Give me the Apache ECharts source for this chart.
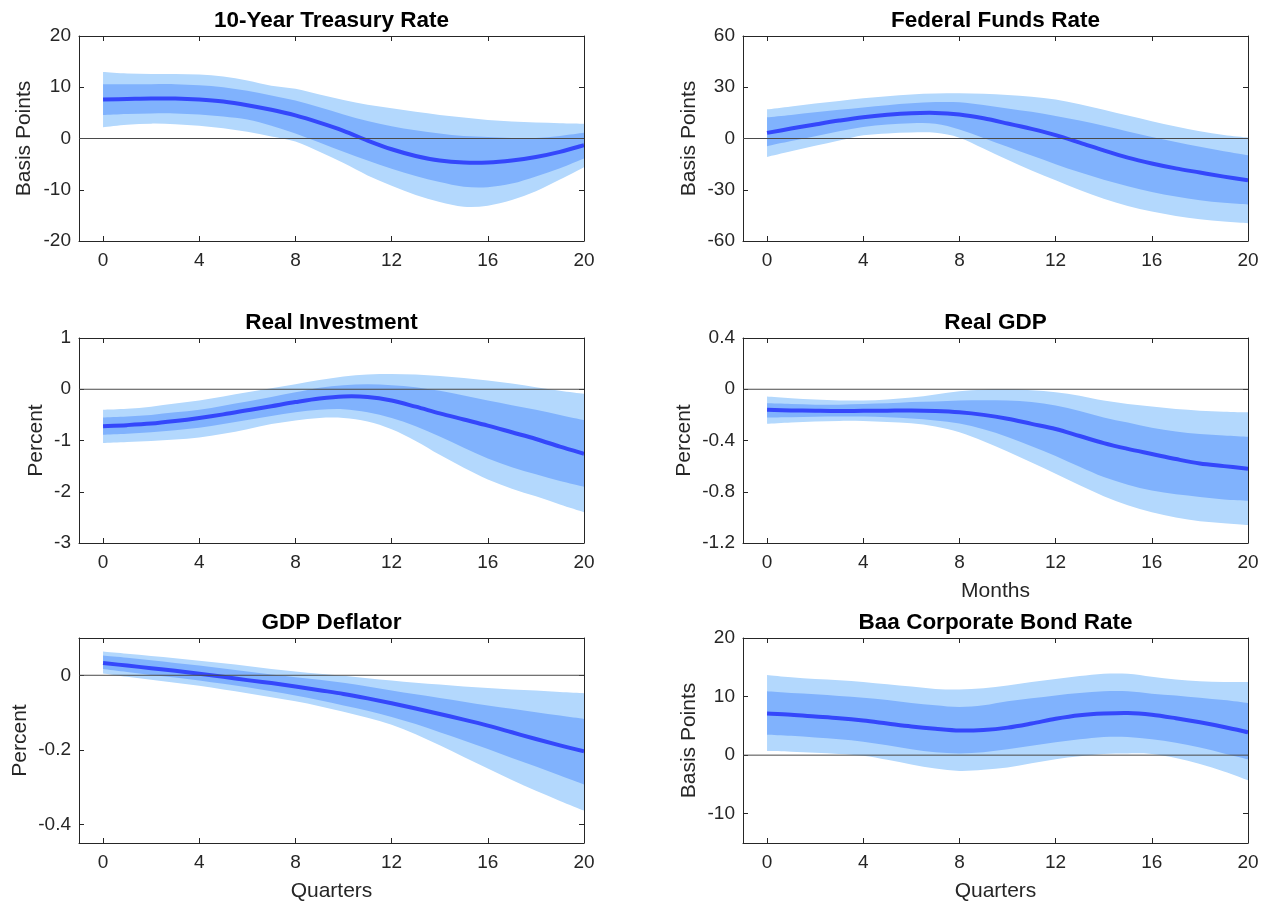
<!DOCTYPE html>
<html>
<head>
<meta charset="utf-8">
<title>Impulse responses</title>
<script src="https://cdn.jsdelivr.net/npm/echarts@6/dist/echarts.min.js"></script>
<style>
  html, body { margin: 0; padding: 0; background: #ffffff; }
  #chart { width: 1265px; height: 903px; }
</style>
</head>
<body>
<div id="chart"></div>
<script>
// Horizon (quarters after the shock) and shared x tick labels
const horizons = [0,1,2,3,4,5,6,7,8,9,10,11,12,13,14,15,16,17,18,19,20];
const xTicks = [0,4,8,12,16,20];

// 10-Year Treasury Rate (basis points)
const tsyMedian  = [7.6,7.7,7.8,7.8,7.6,7.2,6.5,5.6,4.5,3.1,1.5,-0.4,-2.1,-3.4,-4.3,-4.7,-4.7,-4.3,-3.6,-2.6,-1.3];
const tsyInnerHi = [10.6,10.6,10.6,10.6,10.4,10.0,9.3,8.4,7.4,6.1,4.7,3.4,2.4,1.6,1.0,0.5,0.3,0.1,0.1,0.5,1.1];
const tsyInnerLo = [4.6,4.8,4.9,4.9,4.7,4.3,3.7,2.5,1.0,-0.8,-2.6,-4.3,-5.9,-7.3,-8.5,-9.4,-9.5,-8.8,-7.4,-5.8,-3.9];
const tsyOuterHi = [13.0,12.7,12.6,12.6,12.5,12.1,11.3,10.3,9.7,8.6,7.5,6.6,5.9,5.2,4.6,4.1,3.6,3.3,3.1,3.0,2.9];
const tsyOuterLo = [2.2,2.7,2.9,2.8,2.5,2.0,1.3,0.4,-0.6,-2.6,-4.8,-7.2,-9.2,-11.0,-12.4,-13.3,-13.1,-12.0,-10.3,-8.0,-5.6];
const tsyYTicks  = [-20,-10,0,10,20];

// Federal Funds Rate (basis points)
const ffrMedian  = [3.3,5.8,8.2,10.5,12.5,13.9,14.8,15.0,14.0,11.8,8.8,5.6,2.0,-2.4,-7.0,-11.2,-14.6,-17.5,-19.9,-22.3,-24.5];
const ffrInnerHi = [12.4,13.8,15.3,16.8,18.2,19.5,20.6,21.3,21.2,19.6,17.6,15.6,13.2,10.5,7.4,4.1,0.9,-2.1,-4.9,-7.5,-9.8];
const ffrInnerLo = [-4.5,-1.5,1.3,4.2,6.8,8.2,8.9,8.6,5.3,0.3,-4.9,-10.0,-15.0,-19.8,-24.2,-28.0,-31.3,-34.0,-36.1,-37.6,-38.6];
const ffrOuterHi = [17.1,18.8,20.5,22.0,23.5,24.8,25.8,26.3,26.5,26.2,25.5,24.4,22.8,20.0,16.8,13.4,10.1,7.0,4.2,2.1,0.6];
const ffrOuterLo = [-10.8,-7.5,-4.3,-1.2,1.9,3.0,3.5,3.3,0.5,-5.8,-12.5,-18.8,-24.5,-30.2,-35.3,-39.5,-42.8,-45.3,-47.2,-48.6,-49.6];
const ffrYTicks  = [-60,-30,0,30,60];

// Real Investment (percent)
const invMedian  = [-0.72,-0.70,-0.67,-0.62,-0.56,-0.49,-0.41,-0.33,-0.25,-0.18,-0.14,-0.15,-0.22,-0.34,-0.47,-0.59,-0.71,-0.84,-0.97,-1.12,-1.26];
const invInnerHi = [-0.55,-0.53,-0.50,-0.45,-0.40,-0.32,-0.24,-0.15,-0.06,0.03,0.08,0.10,0.08,0.04,-0.03,-0.12,-0.22,-0.31,-0.40,-0.50,-0.60];
const invInnerLo = [-0.89,-0.87,-0.84,-0.80,-0.75,-0.68,-0.60,-0.52,-0.45,-0.40,-0.39,-0.45,-0.56,-0.72,-0.92,-1.14,-1.35,-1.52,-1.66,-1.79,-1.90];
const invOuterHi = [-0.40,-0.38,-0.34,-0.28,-0.22,-0.14,-0.06,0.02,0.10,0.18,0.25,0.29,0.30,0.29,0.26,0.22,0.17,0.11,0.04,-0.03,-0.09];
const invOuterLo = [-1.05,-1.03,-1.01,-0.98,-0.94,-0.87,-0.78,-0.68,-0.61,-0.56,-0.56,-0.63,-0.78,-1.01,-1.28,-1.53,-1.76,-1.94,-2.09,-2.25,-2.40];
const invYTicks  = [-3,-2,-1,0,1];

// Real GDP (percent)
const gdpMedian  = [-0.16,-0.165,-0.168,-0.17,-0.168,-0.167,-0.166,-0.17,-0.18,-0.20,-0.23,-0.27,-0.31,-0.365,-0.42,-0.465,-0.505,-0.545,-0.58,-0.60,-0.62];
const gdpInnerHi = [-0.11,-0.115,-0.12,-0.12,-0.115,-0.11,-0.10,-0.095,-0.088,-0.085,-0.088,-0.10,-0.127,-0.17,-0.22,-0.26,-0.30,-0.33,-0.35,-0.36,-0.37];
const gdpInnerLo = [-0.22,-0.218,-0.215,-0.213,-0.213,-0.218,-0.228,-0.243,-0.268,-0.312,-0.372,-0.445,-0.52,-0.605,-0.685,-0.745,-0.79,-0.82,-0.84,-0.86,-0.87];
const gdpOuterHi = [-0.057,-0.07,-0.08,-0.087,-0.088,-0.08,-0.065,-0.04,-0.015,-0.003,0.0,-0.008,-0.023,-0.05,-0.088,-0.115,-0.135,-0.155,-0.167,-0.175,-0.18];
const gdpOuterLo = [-0.27,-0.26,-0.252,-0.247,-0.248,-0.255,-0.265,-0.29,-0.335,-0.405,-0.485,-0.572,-0.66,-0.75,-0.835,-0.905,-0.96,-1.00,-1.03,-1.045,-1.06];
const gdpYTicks  = [-1.2,-0.8,-0.4,0,0.4];

// GDP Deflator (percent)
const defMedian  = [0.033,0.026,0.019,0.012,0.004,-0.004,-0.013,-0.021,-0.030,-0.040,-0.050,-0.062,-0.075,-0.089,-0.104,-0.119,-0.135,-0.153,-0.171,-0.188,-0.204];
const defInnerHi = [0.053,0.047,0.040,0.033,0.026,0.018,0.010,0.002,-0.005,-0.012,-0.020,-0.030,-0.041,-0.051,-0.061,-0.071,-0.081,-0.090,-0.099,-0.108,-0.117];
const defInnerLo = [0.017,0.009,0.001,-0.006,-0.014,-0.023,-0.032,-0.043,-0.054,-0.067,-0.081,-0.095,-0.112,-0.131,-0.153,-0.175,-0.198,-0.222,-0.245,-0.269,-0.293];
const defOuterHi = [0.064,0.058,0.052,0.046,0.039,0.032,0.025,0.017,0.010,0.004,-0.001,-0.008,-0.014,-0.020,-0.025,-0.030,-0.034,-0.038,-0.041,-0.045,-0.048];
const defOuterLo = [0.005,-0.004,-0.012,-0.020,-0.028,-0.038,-0.048,-0.059,-0.070,-0.083,-0.098,-0.114,-0.133,-0.158,-0.188,-0.219,-0.250,-0.281,-0.310,-0.337,-0.363];
const defYTicks  = [-0.4,-0.2,0];

// Baa Corporate Bond Rate (basis points)
const baaMedian  = [7.1,6.9,6.6,6.3,5.9,5.4,4.9,4.5,4.2,4.3,4.7,5.4,6.2,6.8,7.1,7.2,6.9,6.3,5.6,4.8,3.9];
const baaInnerHi = [10.9,10.6,10.4,10.1,9.8,9.4,8.9,8.5,8.2,8.5,9.2,9.7,10.2,10.6,10.9,10.9,10.5,10.2,9.8,9.4,8.9];
const baaInnerLo = [3.5,3.3,3.0,2.7,2.3,1.7,1.0,0.5,0.3,0.5,1.0,1.6,2.2,2.7,3.1,3.1,2.7,2.1,1.3,0.3,-0.7];
const baaOuterHi = [13.7,13.3,13.0,12.8,12.5,12.1,11.7,11.3,11.2,11.4,11.9,12.5,13.0,13.5,13.9,13.9,13.4,12.9,12.6,12.5,12.5];
const baaOuterLo = [0.7,0.6,0.4,0.2,-0.1,-0.8,-1.6,-2.3,-2.7,-2.5,-2.1,-1.4,-0.7,-0.2,0.2,0.3,0.2,-0.5,-1.5,-2.8,-4.3];
const baaYTicks  = [-10,0,10,20];

// Panel descriptions (grid slot, axis range, names)
const panels = [
  { title: '10-Year Treasury Rate', yName: 'Basis Points', xName: '', col: 0, row: 0, yMin: -20, yMax: 20, yTicks: tsyYTicks, nameGap: 44,
    median: tsyMedian, innerHi: tsyInnerHi, innerLo: tsyInnerLo, outerHi: tsyOuterHi, outerLo: tsyOuterLo },
  { title: 'Federal Funds Rate', yName: 'Basis Points', xName: '', col: 1, row: 0, yMin: -60, yMax: 60, yTicks: ffrYTicks, nameGap: 43,
    median: ffrMedian, innerHi: ffrInnerHi, innerLo: ffrInnerLo, outerHi: ffrOuterHi, outerLo: ffrOuterLo },
  { title: 'Real Investment', yName: 'Percent', xName: '', col: 0, row: 1, yMin: -3, yMax: 1, yTicks: invYTicks, nameGap: 32,
    median: invMedian, innerHi: invInnerHi, innerLo: invInnerLo, outerHi: invOuterHi, outerLo: invOuterLo },
  { title: 'Real GDP', yName: 'Percent', xName: 'Months', col: 1, row: 1, yMin: -1.2, yMax: 0.4, yTicks: gdpYTicks, nameGap: 48,
    median: gdpMedian, innerHi: gdpInnerHi, innerLo: gdpInnerLo, outerHi: gdpOuterHi, outerLo: gdpOuterLo },
  { title: 'GDP Deflator', yName: 'Percent', xName: 'Quarters', col: 0, row: 2, yMin: -0.45, yMax: 0.1, yTicks: defYTicks, nameGap: 48,
    median: defMedian, innerHi: defInnerHi, innerLo: defInnerLo, outerHi: defOuterHi, outerLo: defOuterLo },
  { title: 'Baa Corporate Bond Rate', yName: 'Basis Points', xName: 'Quarters', col: 1, row: 2, yMin: -15, yMax: 20, yTicks: baaYTicks, nameGap: 43,
    median: baaMedian, innerHi: baaInnerHi, innerLo: baaInnerLo, outerHi: baaOuterHi, outerLo: baaOuterLo }
];

const FONT = "'Liberation Sans', Arial, Helvetica, sans-serif";
const INK = '#262626';
const LIGHT = '#b3d8fd';
const DARK = '#80b2fd';
const LINE = '#3447fb';
const X_MIN = -1, X_MAX = 20;

const colLeft = [79, 743];
const rowTop = [36, 338, 638];
const plotW = 505, plotH = 205;

// Smooth curve through pixel points (Catmull-Rom written as cubic Beziers)
function curveSegments(pts) {
  let d = '';
  for (let i = 0; i < pts.length - 1; i++) {
    const p0 = pts[Math.max(i - 1, 0)], p1 = pts[i], p2 = pts[i + 1], p3 = pts[Math.min(i + 2, pts.length - 1)];
    const c1x = p1[0] + (p2[0] - p0[0]) / 6, c1y = p1[1] + (p2[1] - p0[1]) / 6;
    const c2x = p2[0] - (p3[0] - p1[0]) / 6, c2y = p2[1] - (p3[1] - p1[1]) / 6;
    d += ' C' + c1x.toFixed(2) + ',' + c1y.toFixed(2) + ' ' + c2x.toFixed(2) + ',' + c2y.toFixed(2) + ' ' + p2[0].toFixed(2) + ',' + p2[1].toFixed(2);
  }
  return d;
}
function curvePath(pts) {
  return 'M' + pts[0][0].toFixed(2) + ',' + pts[0][1].toFixed(2) + curveSegments(pts);
}
function bandPath(lo, hi) {
  const up = hi.slice().reverse();
  return curvePath(lo) + ' L' + up[0][0].toFixed(2) + ',' + up[0][1].toFixed(2) + curveSegments(up) + ' Z';
}

const grids = [], xAxes = [], yAxes = [], titles = [], series = [];

panels.forEach((p, i) => {
  const left = colLeft[p.col], top = rowTop[p.row];
  grids.push({ left: left, top: top, width: plotW, height: plotH, containLabel: false });

  titles.push({
    text: p.title, left: left + plotW / 2, top: top - 27, padding: 0, textAlign: 'center',
    textStyle: { fontFamily: FONT, fontSize: 22.5, fontWeight: 'bold', color: '#000' }
  });

  const tick = { show: true, inside: true, length: 5, lineStyle: { color: INK, width: 1 } };
  const line = { show: true, onZero: false, lineStyle: { color: INK, width: 1 } };

  xAxes.push({
    type: 'value', gridIndex: i, position: 'bottom', min: X_MIN, max: X_MAX,
    axisLine: line, axisTick: Object.assign({ customValues: xTicks }, tick),
    axisLabel: { customValues: xTicks, margin: 10, fontFamily: FONT, fontSize: 19, color: INK },
    splitLine: { show: false },
    name: p.xName, nameLocation: 'middle', nameGap: 38,
    nameTextStyle: { fontFamily: FONT, fontSize: 21, color: INK }
  });
  xAxes.push({
    type: 'value', gridIndex: i, position: 'top', min: X_MIN, max: X_MAX,
    axisLine: line, axisTick: Object.assign({ customValues: xTicks }, tick),
    axisLabel: { show: false }, splitLine: { show: false }
  });
  yAxes.push({
    type: 'value', gridIndex: i, position: 'left', min: p.yMin, max: p.yMax,
    axisLine: line, axisTick: Object.assign({ customValues: p.yTicks }, tick),
    axisLabel: { customValues: p.yTicks, margin: 8, fontFamily: FONT, fontSize: 19, color: INK },
    splitLine: { show: false },
    name: p.yName, nameLocation: 'middle', nameGap: p.nameGap,
    nameTextStyle: { fontFamily: FONT, fontSize: 21, color: INK }
  });
  yAxes.push({
    type: 'value', gridIndex: i, position: 'right', min: p.yMin, max: p.yMax,
    axisLine: line, axisTick: Object.assign({ customValues: p.yTicks }, tick),
    axisLabel: { show: false }, splitLine: { show: false }
  });

  const ax = { xAxisIndex: 2 * i, yAxisIndex: 2 * i };
  const toPx = (api, vals) => horizons.map((h, k) => api.coord([h, vals[k]]));

  // credible bands: outer (light) with inner (dark) on top
  series.push(Object.assign({
    type: 'custom', coordinateSystem: 'cartesian2d', silent: true, clip: true,
    data: [[0, 0]],
    renderItem: (params, api) => ({
      type: 'group',
      children: [
        { type: 'path', shape: { pathData: bandPath(toPx(api, p.outerLo), toPx(api, p.outerHi)) },
          style: { fill: LIGHT, stroke: null } },
        { type: 'path', shape: { pathData: bandPath(toPx(api, p.innerLo), toPx(api, p.innerHi)) },
          style: { fill: DARK, stroke: null } }
      ]
    })
  }, ax));

  // zero reference line
  series.push(Object.assign({
    type: 'line', data: [[X_MIN, 0], [X_MAX, 0]], symbol: 'none', silent: true,
    lineStyle: { color: '#4a4a4a', width: 1 }
  }, ax));

  // median response
  series.push(Object.assign({
    type: 'custom', coordinateSystem: 'cartesian2d', silent: true, clip: true,
    data: [[0, 0]],
    renderItem: (params, api) => ({
      type: 'path', shape: { pathData: curvePath(toPx(api, p.median)) },
      style: { fill: null, stroke: LINE, lineWidth: 4, lineJoin: 'round', lineCap: 'butt' }
    })
  }, ax));
});

const chart = echarts.init(document.getElementById('chart'), null, { renderer: 'canvas' });
chart.setOption({
  animation: false,
  backgroundColor: '#ffffff',
  title: titles,
  grid: grids,
  xAxis: xAxes,
  yAxis: yAxes,
  series: series
});
</script>
</body>
</html>
